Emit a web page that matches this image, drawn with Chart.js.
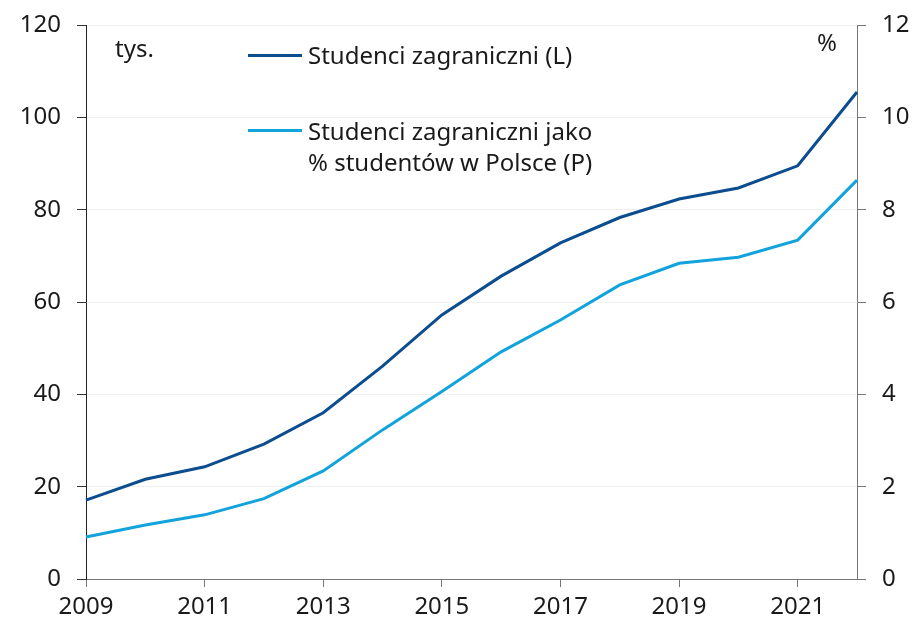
<!DOCTYPE html>
<html>
<head>
<meta charset="utf-8">
<script src="https://cdn.jsdelivr.net/npm/chart.js@4.4.1/dist/chart.umd.min.js"></script>
<style>
  html, body { margin: 0; padding: 0; background: #ffffff; }
  #wrap { position: relative; width: 912px; height: 623px; font-family: "Noto Sans", sans-serif; color: #1a1a1a; }
  #c { position: absolute; left: 0; top: 0; }
  .t { position: absolute; font-size: 24px; line-height: 31px; white-space: nowrap; }
  .sw { position: absolute; height: 3px; width: 54px; }
</style>
</head>
<body>
<div id="wrap">
  <canvas id="c" width="912" height="623"></canvas>
  <div class="t" style="left:115px; top:32px;">tys.</div>
  <div class="t" style="left:817px; top:26px;">%</div>
  <div class="sw" style="left:248px; top:54px; background:#0b4d8e;"></div>
  <div class="t" style="left:308px; top:39px;">Studenci zagraniczni (L)</div>
  <div class="sw" style="left:248px; top:129px; background:#12a3dc;"></div>
  <div class="t" style="left:308px; top:115px;">Studenci zagraniczni jako<br>% studentów w Polsce (P)</div>
</div>
<script>
const years = ["2009","2010","2011","2012","2013","2014","2015","2016","2017","2018","2019","2020","2021","2022"];
const studentsThousands = [17.1, 21.6, 24.3, 29.2, 36.0, 46.1, 57.2, 65.6, 72.8, 78.3, 82.3, 84.7, 89.5, 105.5];
const studentsPercent = [0.91, 1.17, 1.39, 1.74, 2.34, 3.23, 4.06, 4.92, 5.61, 6.37, 6.84, 6.97, 7.34, 8.64];
const leftTicks = [0, 20, 40, 60, 80, 100, 120];
const rightTicks = [0, 2, 4, 6, 8, 10, 12];
const seriesNames = ["Studenci zagraniczni (L)", "Studenci zagraniczni jako % studentów w Polsce (P)"];

const tickFont = { family: "Noto Sans", size: 24 };
const textColor = "#1a1a1a";

new Chart(document.getElementById("c"), {
  type: "line",
  data: {
    labels: years,
    datasets: [
      { label: seriesNames[0], data: studentsThousands, yAxisID: "yL", borderColor: "#0b4d8e", borderWidth: 3, pointRadius: 0, tension: 0, fill: false },
      { label: seriesNames[1], data: studentsPercent, yAxisID: "yR", borderColor: "#12a3dc", borderWidth: 3, pointRadius: 0, tension: 0, fill: false }
    ]
  },
  options: {
    responsive: false,
    devicePixelRatio: 1,
    animation: false,
    layout: { padding: { top: 25, left: 0, right: 0, bottom: 0 } },
    plugins: { legend: { display: false }, tooltip: { enabled: false } },
    scales: {
      x: {
        type: "category",
        offset: false,
        border: { color: "#777777", width: 1 },
        grid: {
          drawOnChartArea: false,
          tickLength: 8,
          tickColor: (ctx) => (ctx.index % 2 === 0 ? "#777777" : "rgba(0,0,0,0)")
        },
        ticks: {
          autoSkip: false,
          maxRotation: 0,
          padding: 6,
          color: textColor,
          font: tickFont,
          callback: function (v, i) { return i % 2 === 0 ? years[i] : ""; }
        },
        afterFit: (s) => { s.height = 44; s.paddingLeft = 0; s.paddingRight = 0; }
      },
      yL: {
        position: "left",
        min: 0, max: 120,
        afterBuildTicks: (s) => { s.ticks = leftTicks.map(v => ({ value: v })); },
        border: { color: "#222222", width: 1 },
        grid: { color: "#f0f0f0", lineWidth: 1, tickLength: 9, tickColor: "#333333" },
        ticks: { padding: 16, color: textColor, font: tickFont },
        afterFit: (s) => { s.width = 86; s.paddingTop = 0; s.paddingBottom = 0; }
      },
      yR: {
        position: "right",
        min: 0, max: 12,
        afterBuildTicks: (s) => { s.ticks = rightTicks.map(v => ({ value: v })); },
        border: { color: "#777777", width: 1 },
        grid: { drawOnChartArea: false, tickLength: 9, tickColor: "#777777" },
        ticks: { padding: 16, color: textColor, font: tickFont },
        afterFit: (s) => { s.width = 55; s.paddingTop = 0; s.paddingBottom = 0; }
      }
    }
  }
});
</script>
</body>
</html>
